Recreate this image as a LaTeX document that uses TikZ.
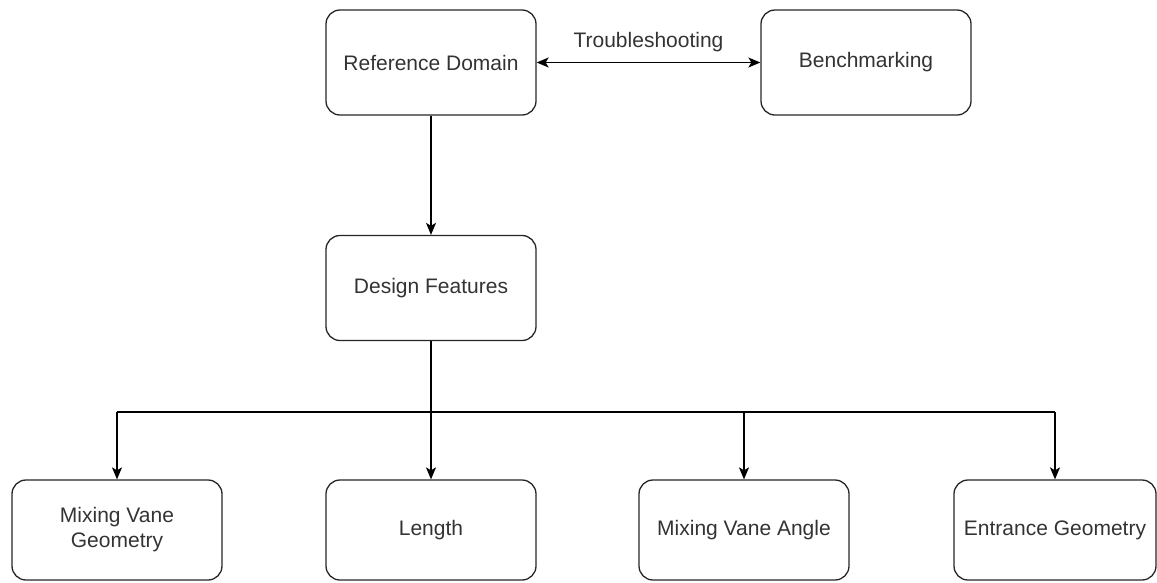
\documentclass[tikz,border=0pt]{standalone}
\usepackage{fontspec}
\setmainfont{Liberation Sans}
\usetikzlibrary{arrows.meta}
\begin{document}
\begin{tikzpicture}[x=1pt,y=-1pt,
  box/.style={draw=black!85, line width=1.3pt, rounded corners=14pt, minimum width=210pt, minimum height=105pt, align=center, font=\fontsize{21}{25}\selectfont, inner sep=0pt, text=black!80},
  lowbox/.style={box, minimum height=100pt},
  conn/.style={line width=1.4pt, draw=black},
  arr/.style={conn, -{Stealth[length=12pt,width=10pt,inset=3pt]}},
  darr/.style={conn, {Stealth[length=12pt,width=10pt,inset=3pt]}-{Stealth[length=12pt,width=10pt,inset=3pt]}},
  lbl/.style={font=\fontsize{21}{25}\selectfont, text=black!80, inner sep=0pt}]
\useasboundingbox (0,0) rectangle (1157,582);
\node[box] (ref) at (431,62.5) {Reference Domain};
\node[box] (bench) at (866,62.5) {Benchmarking};
\node[box] (df) at (431,288) {Design Features};
\node[lowbox] (mvg) at (117,530) {Mixing Vane\\Geometry};
\node[lowbox] (len) at (431,530) {Length};
\node[lowbox] (mva) at (744,530) {Mixing Vane Angle};
\node[lowbox, minimum width=202pt] (ent) at (1055,530) {Entrance Geometry};
\draw[darr] (ref.east) -- (bench.west) node[midway, lbl, above=10pt] (trb) {Troubleshooting};
\draw[arr] (ref.south) -- (df.north);
\coordinate (j) at (431,412);
\draw[conn] (df.south) -- (j);
\draw[conn] (mvg.north |- j) -- (ent.north |- j);
\draw[arr] (mvg.north |- j) -- (mvg.north);
\draw[arr] (j) -- (len.north);
\draw[arr] (mva.north |- j) -- (mva.north);
\draw[arr] (ent.north |- j) -- (ent.north);
\end{tikzpicture}
\end{document}
